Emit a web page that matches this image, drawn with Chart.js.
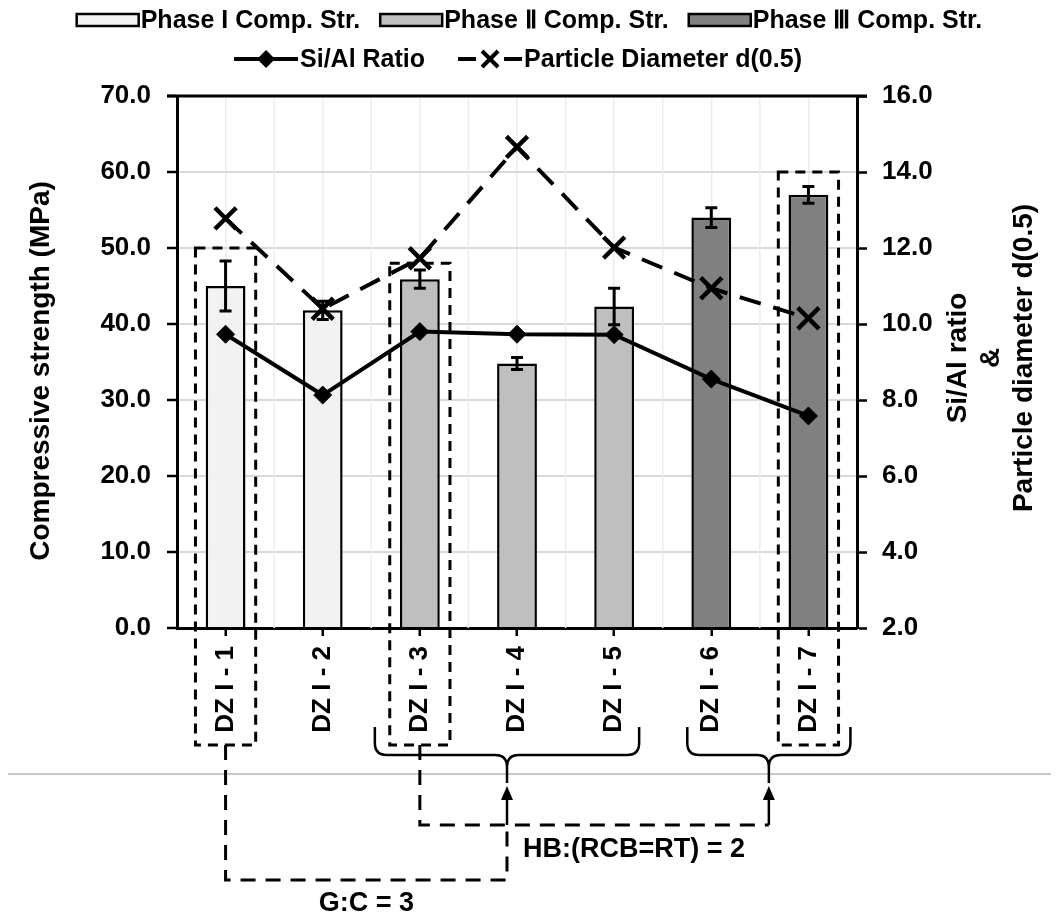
<!DOCTYPE html>
<html>
<head>
<meta charset="utf-8">
<script src="https://cdn.jsdelivr.net/npm/chart.js@4.4.1/dist/chart.umd.min.js"></script>
<style>
  html, body { margin: 0; padding: 0; background: #fff; }
</style>
</head>
<body>
<canvas id="strengthChart" width="1059" height="917"></canvas>
<script>
// mixes and their measured values
const labels = ["DZ I - 1", "DZ I - 2", "DZ I - 3", "DZ I - 4", "DZ I - 5", "DZ I - 6", "DZ I - 7"];
const phaseNames = ["Phase I Comp. Str.", "Phase Ⅱ Comp. Str.", "Phase Ⅲ Comp. Str."];
const phaseOf = [0, 0, 1, 1, 1, 2, 2];
const strength = [45.0, 41.8, 45.9, 34.8, 42.3, 54.0, 57.0];
const strengthErr = [3.3, 1.2, 1.2, 0.8, 2.4, 1.3, 1.1];
const siAlRatio = [9.73, 8.13, 9.80, 9.73, 9.72, 8.55, 7.58];
const d50 = [12.78, 10.4, 11.73, 14.66, 12.01, 10.94, 10.15];

// selected mixes (dashed frames, top on the strength axis) and group notes
const selectedTop = [50, null, 48, null, null, null, 60];
const noteGC = "G:C = 3";
const noteHB = "HB:(RCB=RT) = 2";
const rightTitle = ["Si/Al ratio", "&", "Particle diameter d(0.5)"];
const leftTitle = "Compressive strength (MPa)";

const FONT = '"Liberation Sans", Arial, sans-serif';
const phaseFill = ["#f2f2f2", "#bfbfbf", "#808080"];

Chart.defaults.font.family = FONT;
Chart.defaults.color = "#000";

// bar datasets, one per phase
const barSets = phaseNames.map((name, p) => ({
    type: "bar",
    label: name,
    data: strength.map((v, i) => (phaseOf[i] === p ? v : null)),
    backgroundColor: phaseFill[p],
    borderColor: "#000",
    borderWidth: 2.5,
    grouped: false,
    barPercentage: 0.41,
    categoryPercentage: 1,
    yAxisID: "y",
    order: 2
}));

const lineSets = [
    {
        type: "line",
        label: "Si/Al Ratio",
        data: siAlRatio,
        yAxisID: "y1",
        borderColor: "#000",
        borderWidth: 4,
        backgroundColor: "#000",
        pointStyle: "rectRot",
        pointRadius: 9,
        pointBorderWidth: 1,
        tension: 0,
        order: 1
    },
    {
        type: "line",
        label: "Particle Diameter d(0.5)",
        data: d50,
        yAxisID: "y1",
        borderColor: "#000",
        borderWidth: 4,
        borderDash: [22, 13],
        backgroundColor: "#000",
        pointStyle: "crossRot",
        pointRadius: 15,
        pointBorderWidth: 4.5,
        tension: 0,
        order: 0
    }
];

// light boundary lines between categories
const midGrid = {
    id: "midGrid",
    beforeDatasetsDraw(chart) {
        const { ctx, chartArea: a, scales: { x } } = chart;
        ctx.save();
        ctx.strokeStyle = "#ececec";
        ctx.lineWidth = 1.5;
        for (let i = 0; i < labels.length - 1; i++) {
            const px = (x.getPixelForValue(i) + x.getPixelForValue(i + 1)) / 2;
            ctx.beginPath();
            ctx.moveTo(px, a.top);
            ctx.lineTo(px, a.bottom);
            ctx.stroke();
        }
        ctx.restore();
    }
};

// standard deviation whiskers on the bars
const errorBars = {
    id: "errorBars",
    afterDatasetDraw(chart, args) {
        const ds = chart.data.datasets[args.index];
        if (ds.type !== "bar") return;
        const y = chart.scales.y;
        const ctx = chart.ctx;
        ctx.save();
        ctx.strokeStyle = "#000";
        ctx.lineWidth = 3;
        args.meta.data.forEach((bar, i) => {
            if (ds.data[i] == null) return;
            const top = y.getPixelForValue(strength[i] + strengthErr[i]);
            const bot = y.getPixelForValue(strength[i] - strengthErr[i]);
            ctx.beginPath();
            ctx.moveTo(bar.x, top); ctx.lineTo(bar.x, bot);
            ctx.moveTo(bar.x - 6, top); ctx.lineTo(bar.x + 6, top);
            ctx.moveTo(bar.x - 6, bot); ctx.lineTo(bar.x + 6, bot);
            ctx.stroke();
        });
        ctx.restore();
    }
};

function brace(ctx, x1, x2, top, mid, tip) {
    const xm = (x1 + x2) / 2, r = 12;
    ctx.beginPath();
    ctx.moveTo(x1, top);
    ctx.lineTo(x1, mid - r);
    ctx.quadraticCurveTo(x1, mid, x1 + r, mid);
    ctx.lineTo(xm - r, mid);
    ctx.quadraticCurveTo(xm, mid, xm, mid + r);
    ctx.lineTo(xm, tip);
    ctx.moveTo(x2, top);
    ctx.lineTo(x2, mid - r);
    ctx.quadraticCurveTo(x2, mid, x2 - r, mid);
    ctx.lineTo(xm + r, mid);
    ctx.quadraticCurveTo(xm, mid, xm, mid + r);
    ctx.stroke();
    return xm;
}

function arrowUp(ctx, x, tipY, fromY) {
    ctx.setLineDash([]);
    ctx.beginPath();
    ctx.moveTo(x, fromY);
    ctx.lineTo(x, tipY + 12);
    ctx.stroke();
    ctx.beginPath();
    ctx.moveTo(x, tipY);
    ctx.lineTo(x - 6, tipY + 14);
    ctx.lineTo(x + 6, tipY + 14);
    ctx.closePath();
    ctx.fill();
}

function drawLegend(ctx, width) {
    ctx.save();
    ctx.font = `bold 25px ${FONT}`;
    ctx.textBaseline = "middle";
    ctx.textAlign = "left";
    ctx.fillStyle = "#000";

    // row 1: bar phases
    const sw = 62, gap = 20, y1 = 20;
    const w1 = phaseNames.map(n => sw + 2 + ctx.measureText(n).width);
    let x = width / 2 - (w1.reduce((s, w) => s + w, 0) + gap * (w1.length - 1)) / 2;
    phaseNames.forEach((n, p) => {
        ctx.fillStyle = phaseFill[p];
        ctx.fillRect(x, y1 - 6, sw, 12);
        ctx.strokeStyle = "#000";
        ctx.lineWidth = 2.5;
        ctx.strokeRect(x, y1 - 6, sw, 12);
        ctx.fillStyle = "#000";
        ctx.fillText(n, x + sw + 2, y1 + 1);
        x += w1[p] + gap;
    });

    // row 2: lines
    const lw = 64, gap2 = 33, y2 = 59;
    const w2 = lineSets.map(s => lw + 2 + ctx.measureText(s.label).width);
    x = 518 - (w2.reduce((s, w) => s + w, 0) + gap2) / 2;
    lineSets.forEach((s, k) => {
        const cx = x + lw / 2;
        ctx.strokeStyle = "#000";
        ctx.lineWidth = 4;
        ctx.beginPath();
        if (k === 0) {
            ctx.moveTo(x, y2); ctx.lineTo(x + lw, y2);
            ctx.stroke();
            ctx.beginPath();
            ctx.moveTo(cx - 9, y2); ctx.lineTo(cx, y2 - 9);
            ctx.lineTo(cx + 9, y2); ctx.lineTo(cx, y2 + 9);
            ctx.closePath();
            ctx.fill();
        } else {
            ctx.moveTo(x, y2); ctx.lineTo(x + 18, y2);
            ctx.moveTo(x + lw - 18, y2); ctx.lineTo(x + lw, y2);
            ctx.moveTo(cx - 8, y2 - 8); ctx.lineTo(cx + 8, y2 + 8);
            ctx.moveTo(cx + 8, y2 - 8); ctx.lineTo(cx - 8, y2 + 8);
            ctx.stroke();
        }
        ctx.fillText(s.label, x + lw + 2, y2 + 1);
        x += w2[k] + gap2;
    });
    ctx.restore();
}

// titles, frame, legend and the grouping sketch below the axis
const overlay = {
    id: "overlay",
    afterDraw(chart) {
        const { ctx, chartArea: a, scales: { x, y } } = chart;
        const b = a.bottom;
        ctx.save();

        // top frame line
        ctx.strokeStyle = "#000";
        ctx.lineWidth = 3;
        ctx.beginPath();
        ctx.moveTo(a.left - 10, a.top);
        ctx.lineTo(a.right + 10, a.top);
        ctx.stroke();

        // axis titles
        ctx.fillStyle = "#000";
        ctx.font = `bold 28px ${FONT}`;
        ctx.textAlign = "center";
        ctx.textBaseline = "middle";
        ctx.save();
        ctx.translate(41, 371);
        ctx.rotate(-Math.PI / 2);
        ctx.fillText(leftTitle, 0, 0);
        ctx.restore();
        rightTitle.forEach((t, k) => {
            ctx.save();
            ctx.translate(958 + k * 33, 358);
            ctx.rotate(-Math.PI / 2);
            ctx.fillText(t, 0, 0);
            ctx.restore();
        });

        drawLegend(ctx, chart.width);

        // separator line
        ctx.strokeStyle = "#c8c8c8";
        ctx.lineWidth = 2;
        ctx.beginPath();
        ctx.moveTo(8, b + 146);
        ctx.lineTo(chart.width - 8, b + 146);
        ctx.stroke();

        // dashed frames around the selected mixes
        ctx.strokeStyle = "#000";
        ctx.lineWidth = 3;
        ctx.setLineDash([10, 7]);
        const step = x.getPixelForValue(1) - x.getPixelForValue(0);
        selectedTop.forEach((v, i) => {
            if (v == null) return;
            const cx = x.getPixelForValue(i);
            const top = y.getPixelForValue(v);
            ctx.strokeRect(cx - step * 0.31, top, step * 0.62, b + 117 - top);
        });

        // braces grouping the mixes
        ctx.setLineDash([]);
        ctx.lineWidth = 2.5;
        const tip1 = brace(ctx, x.getPixelForValue(2) - 45, x.getPixelForValue(4) + 25, b + 99, b + 127, b + 155);
        const tip2 = brace(ctx, x.getPixelForValue(5) - 24, x.getPixelForValue(6) + 42, b + 99, b + 127, b + 155);

        // connectors
        const x0 = x.getPixelForValue(0), x2 = x.getPixelForValue(2);
        ctx.lineWidth = 3;
        ctx.setLineDash([15, 10]);
        ctx.beginPath();
        ctx.moveTo(x0, b + 117);
        ctx.lineTo(x0, b + 252);
        ctx.lineTo(tip1, b + 252);
        ctx.lineTo(tip1, b + 197);
        ctx.stroke();
        ctx.beginPath();
        ctx.moveTo(x2, b + 117);
        ctx.lineTo(x2, b + 197);
        ctx.lineTo(tip2, b + 197);
        ctx.stroke();
        ctx.lineWidth = 2.5;
        ctx.fillStyle = "#000";
        arrowUp(ctx, tip1, b + 158, b + 197);
        arrowUp(ctx, tip2, b + 158, b + 197);

        // notes
        ctx.font = `bold 27px ${FONT}`;
        ctx.textAlign = "left";
        ctx.fillText(noteHB, tip1 + 16, b + 222);
        ctx.textAlign = "center";
        ctx.fillText(noteGC, (x0 + tip1) / 2, b + 276);

        ctx.restore();
    }
};

const tickFont = { size: 26, weight: "bold" };

new Chart(document.getElementById("strengthChart").getContext("2d"), {
    data: {
        labels,
        datasets: [...lineSets, ...barSets]
    },
    options: {
        responsive: false,
        animation: false,
        devicePixelRatio: 1,
        layout: { padding: { top: 96, left: 0, right: 0, bottom: 0 } },
        plugins: {
            legend: { display: false },
            tooltip: { enabled: false }
        },
        scales: {
            x: {
                offset: true,
                grid: { offset: false, color: "#ececec", lineWidth: 1.5, tickColor: "#000", tickLength: 8, tickWidth: 2.5 },
                border: { color: "#000", width: 3 },
                ticks: { autoSkip: false, maxRotation: 90, minRotation: 90, color: "#000", font: tickFont, padding: 10 },
                afterFit(s) { s.height = 289; }
            },
            y: {
                position: "left",
                min: 0,
                max: 70,
                ticks: { stepSize: 10, callback: v => v.toFixed(1), color: "#000", font: tickFont, padding: 16 },
                grid: { color: "#d9d9d9", lineWidth: 2, tickColor: "#000", tickLength: 10, tickWidth: 2.5 },
                border: { color: "#000", width: 3 },
                afterFit(s) { s.width = 177; }
            },
            y1: {
                position: "right",
                min: 2,
                max: 16,
                ticks: { stepSize: 2, callback: v => v.toFixed(1), color: "#000", font: tickFont, padding: 15 },
                grid: { drawOnChartArea: false, tickColor: "#000", tickLength: 10, tickWidth: 2.5 },
                border: { color: "#000", width: 3 },
                afterFit(s) { s.width = 202; }
            }
        }
    },
    plugins: [midGrid, errorBars, overlay]
});
</script>
</body>
</html>
